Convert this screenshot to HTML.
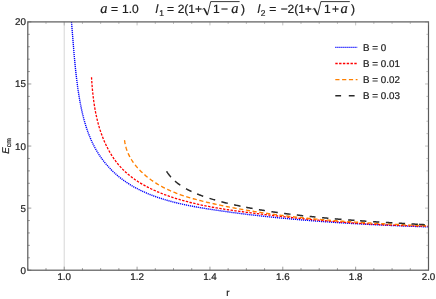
<!DOCTYPE html>
<html><head><meta charset="utf-8"><title>Ecm vs r</title>
<style>
html,body{margin:0;padding:0;background:#ffffff;}
body{width:436px;height:299px;overflow:hidden;}
svg{display:block;opacity:0.999;will-change:transform;}
text{font-family:"Liberation Sans",sans-serif;fill:#1e1e1e;stroke:#1e1e1e;stroke-width:0.22px;text-rendering:geometricPrecision;}
.t{font-size:9.8px;}
.h{font-size:12px;}
.si{font-family:"Liberation Serif",serif;font-style:italic;}
.it{font-style:italic;}
</style></head><body>
<svg width="436" height="299" viewBox="0 0 436 299">
<rect width="436" height="299" fill="#ffffff"/>
<line x1="64.23" y1="21.9" x2="64.23" y2="270.2" stroke="#cccccc" stroke-width="0.8"/>
<g clip-path="url(#cp)">
<clipPath id="cp"><rect x="27.8" y="21.9" width="400.7" height="248.29999999999998"/></clipPath>
<path d="M71.48,22.07 L71.58,23.27 L71.69,24.47 L71.79,25.67 L71.89,26.87 L71.99,28.07 L72.09,29.27 L72.19,30.47 L72.29,31.67 L72.39,32.87 L72.48,34.08 L72.58,35.28 L72.68,36.48 L72.77,37.68 L72.87,38.88 L72.97,40.08 L73.06,41.29 L73.16,42.49 L73.25,43.69 L73.35,44.90 L73.45,46.10 L73.55,47.30 L73.65,48.50 L73.75,49.71 L73.85,50.91 L73.95,52.11 L74.05,53.32 L74.15,54.52 L74.26,55.72 L74.36,56.93 L74.47,58.13 L74.58,59.34 L74.69,60.54 L74.80,61.74 L74.91,62.95 L75.03,64.15 L75.14,65.35 L75.26,66.56 L75.38,67.76 L75.50,68.97 L75.63,70.17 L75.76,71.37 L75.89,72.58 L76.02,73.78 L76.15,74.99 L76.29,76.19 L76.43,77.39 L76.58,78.60 L76.72,79.80 L76.87,81.01 L77.02,82.21 L77.18,83.41 L77.34,84.62 L77.50,85.82 L77.67,87.02 L77.84,88.23 L78.01,89.43 L78.19,90.64 L78.37,91.84 L78.55,93.04 L78.74,94.24 L78.93,95.45 L79.13,96.65 L79.33,97.85 L79.54,99.06 L79.75,100.26 L79.96,101.46 L80.18,102.66 L80.41,103.86 L80.64,105.06 L80.88,106.25 L81.12,107.45 L81.37,108.65 L81.63,109.84 L81.89,111.03 L82.16,112.22 L82.43,113.41 L82.71,114.60 L83.00,115.78 L83.30,116.96 L83.61,118.14 L83.92,119.32 L84.24,120.49 L84.57,121.66 L84.90,122.83 L85.25,124.00 L85.61,125.16 L85.97,126.32 L86.34,127.48 L86.72,128.63 L87.11,129.78 L87.52,130.92 L87.93,132.06 L88.35,133.20 L88.78,134.33 L89.22,135.46 L89.67,136.58 L90.14,137.70 L90.61,138.81 L91.10,139.92 L91.59,141.02 L92.10,142.12 L92.62,143.21 L93.15,144.29 L93.69,145.37 L94.25,146.44 L94.81,147.51 L95.39,148.57 L95.98,149.62 L96.59,150.66 L97.20,151.70 L97.83,152.72 L98.47,153.74 L99.12,154.76 L99.79,155.76 L100.46,156.76 L101.15,157.74 L101.85,158.72 L102.57,159.69 L103.29,160.64 L104.03,161.59 L104.78,162.53 L105.54,163.46 L106.32,164.39 L107.10,165.30 L107.89,166.20 L108.70,167.09 L109.52,167.97 L110.35,168.84 L111.19,169.70 L112.04,170.55 L112.90,171.39 L113.77,172.22 L114.65,173.04 L115.54,173.84 L116.44,174.64 L117.35,175.43 L118.27,176.20 L119.20,176.96 L120.14,177.71 L121.09,178.45 L122.04,179.18 L123.01,179.90 L123.99,180.60 L124.97,181.30 L125.96,181.98 L126.96,182.65 L127.97,183.31 L128.99,183.96 L130.01,184.59 L131.04,185.22 L132.08,185.83 L133.13,186.44 L134.18,187.03 L135.24,187.62 L136.31,188.19 L137.38,188.75 L138.46,189.31 L139.54,189.85 L140.63,190.38 L141.73,190.91 L142.83,191.42 L143.93,191.93 L145.04,192.42 L146.16,192.91 L147.28,193.39 L148.40,193.85 L149.53,194.31 L150.66,194.77 L151.79,195.21 L152.93,195.64 L154.07,196.07 L155.22,196.48 L156.37,196.89 L157.52,197.29 L158.67,197.69 L159.82,198.07 L160.98,198.45 L162.14,198.82 L163.30,199.19 L164.46,199.54 L165.62,199.89 L166.79,200.23 L167.96,200.57 L169.13,200.90 L170.30,201.22 L171.47,201.53 L172.64,201.84 L173.82,202.15 L174.99,202.45 L176.17,202.74 L177.35,203.02 L178.53,203.31 L179.71,203.58 L180.90,203.85 L182.08,204.12 L183.27,204.38 L184.45,204.63 L185.64,204.88 L186.83,205.13 L188.02,205.37 L189.21,205.61 L190.40,205.85 L191.59,206.08 L192.78,206.30 L193.98,206.52 L195.17,206.74 L196.37,206.96 L197.56,207.17 L198.76,207.38 L199.95,207.59 L201.15,207.79 L202.34,207.99 L203.54,208.19 L204.74,208.39 L205.93,208.58 L207.13,208.78 L208.33,208.97 L209.53,209.16 L210.73,209.34 L211.92,209.53 L213.12,209.71 L214.32,209.89 L215.52,210.08 L216.71,210.26 L217.91,210.43 L219.11,210.61 L220.31,210.78 L221.50,210.96 L222.70,211.13 L223.90,211.30 L225.10,211.47 L226.30,211.64 L227.49,211.81 L228.69,211.97 L229.89,212.13 L231.09,212.30 L232.29,212.46 L233.49,212.62 L234.68,212.78 L235.88,212.93 L237.08,213.09 L238.28,213.24 L239.48,213.40 L240.68,213.55 L241.88,213.70 L243.08,213.85 L244.28,214.00 L245.47,214.15 L246.67,214.29 L247.87,214.44 L249.07,214.58 L250.27,214.72 L251.47,214.87 L252.67,215.01 L253.88,215.15 L255.08,215.28 L256.28,215.42 L257.48,215.56 L258.68,215.69 L259.88,215.83 L261.08,215.96 L262.28,216.09 L263.49,216.22 L264.69,216.35 L265.89,216.48 L267.09,216.61 L268.29,216.74 L269.50,216.87 L270.70,216.99 L271.90,217.12 L273.11,217.24 L274.31,217.36 L275.51,217.48 L276.72,217.60 L277.92,217.72 L279.13,217.84 L280.33,217.96 L281.54,218.08 L282.74,218.19 L283.94,218.31 L285.15,218.42 L286.35,218.53 L287.56,218.65 L288.77,218.76 L289.97,218.87 L291.18,218.98 L292.38,219.09 L293.59,219.19 L294.79,219.30 L296.00,219.41 L297.21,219.51 L298.41,219.62 L299.62,219.72 L300.83,219.82 L302.03,219.93 L303.24,220.03 L304.45,220.13 L305.65,220.23 L306.86,220.32 L308.07,220.42 L309.28,220.52 L310.48,220.61 L311.69,220.71 L312.90,220.80 L314.11,220.90 L315.32,220.99 L316.52,221.08 L317.73,221.17 L318.94,221.27 L320.15,221.36 L321.36,221.44 L322.57,221.53 L323.77,221.62 L324.98,221.71 L326.19,221.79 L327.40,221.88 L328.61,221.96 L329.82,222.05 L331.03,222.13 L332.24,222.21 L333.45,222.29 L334.65,222.37 L335.86,222.46 L337.07,222.53 L338.28,222.61 L339.49,222.69 L340.70,222.77 L341.91,222.85 L343.12,222.92 L344.33,223.00 L345.54,223.07 L346.75,223.15 L347.96,223.22 L349.17,223.29 L350.38,223.37 L351.59,223.44 L352.80,223.51 L354.01,223.58 L355.22,223.65 L356.43,223.72 L357.64,223.79 L358.85,223.85 L360.06,223.92 L361.27,223.99 L362.48,224.05 L363.69,224.12 L364.90,224.18 L366.11,224.25 L367.32,224.31 L368.53,224.37 L369.74,224.44 L370.95,224.50 L372.16,224.56 L373.37,224.62 L374.58,224.68 L375.79,224.74 L377.00,224.80 L378.21,224.86 L379.42,224.92 L380.63,224.97 L381.84,225.03 L383.05,225.09 L384.26,225.14 L385.47,225.20 L386.68,225.25 L387.89,225.31 L389.10,225.36 L390.31,225.42 L391.52,225.47 L392.73,225.52 L393.94,225.58 L395.15,225.63 L396.36,225.68 L397.57,225.73 L398.78,225.78 L399.99,225.83 L401.20,225.88 L402.40,225.93 L403.61,225.98 L404.82,226.02 L406.03,226.07 L407.24,226.12 L408.45,226.17 L409.66,226.21 L410.87,226.26 L412.08,226.30 L413.29,226.35 L414.49,226.39 L415.70,226.44 L416.91,226.48 L418.12,226.53 L419.33,226.57 L420.54,226.61 L421.74,226.66 L422.95,226.70 L424.16,226.74 L425.37,226.78 L426.58,226.82 L427.78,226.87" fill="none" stroke="#0000ff" stroke-width="1.4" stroke-dasharray="1.2 0.8"/>
<path d="M91.52,77.19 L91.58,78.20 L91.64,79.21 L91.71,80.22 L91.78,81.24 L91.85,82.25 L91.92,83.27 L91.99,84.29 L92.07,85.31 L92.15,86.34 L92.24,87.36 L92.33,88.38 L92.42,89.41 L92.51,90.44 L92.61,91.46 L92.72,92.49 L92.82,93.52 L92.93,94.55 L93.05,95.58 L93.17,96.61 L93.29,97.64 L93.42,98.68 L93.55,99.71 L93.69,100.74 L93.83,101.77 L93.98,102.80 L94.13,103.84 L94.29,104.87 L94.45,105.90 L94.62,106.93 L94.79,107.96 L94.97,108.99 L95.15,110.02 L95.34,111.05 L95.54,112.08 L95.74,113.10 L95.95,114.13 L96.16,115.15 L96.39,116.18 L96.61,117.20 L96.85,118.22 L97.09,119.24 L97.33,120.26 L97.59,121.28 L97.85,122.29 L98.12,123.31 L98.39,124.32 L98.68,125.33 L98.97,126.34 L99.26,127.35 L99.57,128.35 L99.88,129.35 L100.20,130.35 L100.53,131.35 L100.87,132.35 L101.21,133.34 L101.57,134.33 L101.93,135.32 L102.30,136.30 L102.68,137.28 L103.07,138.26 L103.46,139.24 L103.87,140.21 L104.28,141.18 L104.70,142.14 L105.13,143.10 L105.57,144.05 L106.02,145.00 L106.48,145.95 L106.94,146.89 L107.42,147.82 L107.90,148.75 L108.40,149.68 L108.90,150.59 L109.41,151.50 L109.93,152.41 L110.46,153.31 L111.00,154.20 L111.54,155.08 L112.10,155.96 L112.66,156.83 L113.24,157.69 L113.82,158.55 L114.42,159.40 L115.02,160.24 L115.63,161.07 L116.26,161.89 L116.89,162.70 L117.53,163.51 L118.18,164.30 L118.84,165.09 L119.51,165.86 L120.19,166.63 L120.88,167.39 L121.58,168.13 L122.29,168.87 L123.00,169.60 L123.73,170.32 L124.47,171.02 L125.21,171.72 L125.96,172.41 L126.73,173.09 L127.50,173.77 L128.27,174.43 L129.06,175.08 L129.85,175.73 L130.66,176.36 L131.47,176.99 L132.28,177.61 L133.11,178.22 L133.94,178.82 L134.78,179.41 L135.62,180.00 L136.47,180.58 L137.33,181.14 L138.20,181.70 L139.07,182.26 L139.95,182.80 L140.83,183.34 L141.72,183.87 L142.61,184.39 L143.51,184.91 L144.42,185.41 L145.33,185.91 L146.24,186.41 L147.17,186.89 L148.09,187.37 L149.02,187.84 L149.95,188.31 L150.89,188.77 L151.84,189.22 L152.78,189.66 L153.73,190.10 L154.69,190.53 L155.65,190.96 L156.61,191.38 L157.57,191.79 L158.54,192.20 L159.51,192.60 L160.49,192.99 L161.46,193.38 L162.44,193.77 L163.42,194.15 L164.40,194.52 L165.39,194.88 L166.38,195.25 L167.37,195.60 L168.36,195.95 L169.35,196.30 L170.34,196.64 L171.34,196.98 L172.33,197.31 L173.33,197.63 L174.33,197.95 L175.32,198.27 L176.32,198.58 L177.32,198.89 L178.32,199.19 L179.32,199.49 L180.33,199.79 L181.33,200.08 L182.33,200.36 L183.34,200.64 L184.34,200.92 L185.35,201.19 L186.35,201.46 L187.36,201.73 L188.37,201.99 L189.38,202.25 L190.38,202.50 L191.39,202.75 L192.40,203.00 L193.41,203.24 L194.43,203.48 L195.44,203.71 L196.45,203.95 L197.46,204.18 L198.48,204.40 L199.49,204.62 L200.51,204.84 L201.52,205.06 L202.54,205.27 L203.55,205.48 L204.57,205.69 L205.59,205.89 L206.61,206.09 L207.62,206.29 L208.64,206.48 L209.66,206.67 L210.68,206.86 L211.70,207.05 L212.72,207.24 L213.74,207.42 L214.77,207.60 L215.79,207.78 L216.81,207.95 L217.83,208.12 L218.86,208.29 L219.88,208.46 L220.90,208.63 L221.93,208.79 L222.95,208.95 L223.98,209.12 L225.00,209.27 L226.03,209.43 L227.05,209.59 L228.08,209.74 L229.11,209.89 L230.13,210.04 L231.16,210.19 L232.19,210.34 L233.21,210.48 L234.24,210.63 L235.27,210.77 L236.30,210.91 L237.33,211.05 L238.36,211.19 L239.38,211.33 L240.41,211.47 L241.44,211.61 L242.47,211.74 L243.50,211.88 L244.53,212.01 L245.56,212.14 L246.59,212.28 L247.62,212.41 L248.65,212.54 L249.68,212.67 L250.71,212.80 L251.74,212.93 L252.77,213.06 L253.80,213.19 L254.84,213.32 L255.87,213.45 L256.90,213.58 L257.93,213.70 L258.96,213.83 L259.99,213.96 L261.02,214.08 L262.05,214.21 L263.09,214.33 L264.12,214.46 L265.15,214.58 L266.18,214.70 L267.21,214.83 L268.25,214.95 L269.28,215.07 L270.31,215.19 L271.34,215.31 L272.37,215.43 L273.41,215.55 L274.44,215.67 L275.47,215.79 L276.51,215.90 L277.54,216.02 L278.57,216.14 L279.60,216.25 L280.64,216.37 L281.67,216.48 L282.70,216.60 L283.74,216.71 L284.77,216.82 L285.81,216.94 L286.84,217.05 L287.87,217.16 L288.91,217.27 L289.94,217.38 L290.97,217.49 L292.01,217.60 L293.04,217.71 L294.08,217.81 L295.11,217.92 L296.15,218.03 L297.18,218.13 L298.21,218.24 L299.25,218.34 L300.28,218.45 L301.32,218.55 L302.35,218.66 L303.39,218.76 L304.42,218.86 L305.46,218.96 L306.49,219.06 L307.53,219.16 L308.56,219.26 L309.60,219.36 L310.64,219.46 L311.67,219.56 L312.71,219.65 L313.74,219.75 L314.78,219.85 L315.81,219.94 L316.85,220.04 L317.89,220.13 L318.92,220.22 L319.96,220.32 L320.99,220.41 L322.03,220.50 L323.07,220.59 L324.10,220.68 L325.14,220.77 L326.17,220.86 L327.21,220.95 L328.25,221.04 L329.28,221.12 L330.32,221.21 L331.36,221.30 L332.39,221.38 L333.43,221.47 L334.47,221.55 L335.50,221.63 L336.54,221.72 L337.58,221.80 L338.61,221.88 L339.65,221.96 L340.69,222.04 L341.73,222.12 L342.76,222.20 L343.80,222.28 L344.84,222.35 L345.87,222.43 L346.91,222.51 L347.95,222.58 L348.99,222.66 L350.02,222.73 L351.06,222.80 L352.10,222.88 L353.14,222.95 L354.17,223.02 L355.21,223.09 L356.25,223.16 L357.29,223.23 L358.33,223.30 L359.36,223.37 L360.40,223.43 L361.44,223.50 L362.48,223.57 L363.52,223.63 L364.55,223.70 L365.59,223.76 L366.63,223.82 L367.67,223.88 L368.71,223.95 L369.74,224.01 L370.78,224.07 L371.82,224.13 L372.86,224.19 L373.90,224.24 L374.94,224.30 L375.97,224.36 L377.01,224.41 L378.05,224.47 L379.09,224.52 L380.13,224.58 L381.17,224.63 L382.20,224.68 L383.24,224.74 L384.28,224.79 L385.32,224.84 L386.36,224.89 L387.40,224.94 L388.43,224.98 L389.47,225.03 L390.51,225.08 L391.55,225.12 L392.59,225.17 L393.63,225.21 L394.67,225.26 L395.71,225.30 L396.74,225.34 L397.78,225.38 L398.82,225.42 L399.86,225.46 L400.90,225.50 L401.94,225.54 L402.98,225.58 L404.02,225.62 L405.05,225.65 L406.09,225.69 L407.13,225.72 L408.17,225.76 L409.21,225.79 L410.25,225.82 L411.29,225.85 L412.33,225.88 L413.36,225.91 L414.40,225.94 L415.44,225.97 L416.48,226.00 L417.52,226.03 L418.56,226.05 L419.60,226.08 L420.64,226.10 L421.67,226.13 L422.71,226.15 L423.75,226.17 L424.79,226.19 L425.83,226.21 L426.87,226.23 L427.91,226.25" fill="none" stroke="#ff0000" stroke-width="1.3" stroke-dasharray="2.4 1.4"/>
<path d="M124.55,140.09 L124.65,140.95 L124.77,141.81 L124.90,142.66 L125.06,143.50 L125.22,144.34 L125.40,145.17 L125.60,145.99 L125.81,146.81 L126.04,147.62 L126.28,148.43 L126.54,149.22 L126.81,150.02 L127.10,150.80 L127.40,151.58 L127.71,152.36 L128.03,153.13 L128.37,153.89 L128.72,154.64 L129.09,155.39 L129.46,156.13 L129.85,156.87 L130.25,157.60 L130.66,158.32 L131.09,159.04 L131.52,159.75 L131.97,160.45 L132.42,161.15 L132.89,161.84 L133.36,162.53 L133.85,163.20 L134.35,163.88 L134.85,164.54 L135.37,165.20 L135.89,165.85 L136.42,166.50 L136.96,167.13 L137.51,167.77 L138.07,168.39 L138.63,169.01 L139.21,169.62 L139.79,170.23 L140.37,170.83 L140.97,171.42 L141.57,172.01 L142.17,172.58 L142.79,173.16 L143.40,173.72 L144.03,174.28 L144.66,174.83 L145.29,175.38 L145.93,175.92 L146.58,176.45 L147.23,176.97 L147.88,177.49 L148.54,178.00 L149.20,178.51 L149.86,179.00 L150.53,179.50 L151.20,179.98 L151.88,180.46 L152.56,180.93 L153.24,181.40 L153.93,181.85 L154.62,182.31 L155.31,182.75 L156.01,183.19 L156.71,183.63 L157.41,184.06 L158.12,184.48 L158.83,184.90 L159.54,185.31 L160.26,185.71 L160.98,186.11 L161.70,186.51 L162.42,186.90 L163.15,187.28 L163.88,187.66 L164.62,188.03 L165.35,188.40 L166.09,188.76 L166.83,189.12 L167.58,189.47 L168.33,189.82 L169.08,190.16 L169.83,190.50 L170.58,190.83 L171.34,191.16 L172.10,191.49 L172.86,191.81 L173.63,192.12 L174.39,192.43 L175.16,192.74 L175.93,193.04 L176.70,193.34 L177.48,193.63 L178.26,193.92 L179.03,194.21 L179.81,194.49 L180.60,194.77 L181.38,195.05 L182.17,195.32 L182.95,195.58 L183.74,195.85 L184.53,196.11 L185.33,196.37 L186.12,196.62 L186.92,196.87 L187.71,197.12 L188.51,197.36 L189.31,197.60 L190.11,197.84 L190.91,198.08 L191.72,198.31 L192.52,198.54 L193.33,198.77 L194.13,198.99 L194.94,199.22 L195.75,199.44 L196.56,199.65 L197.37,199.87 L198.18,200.08 L198.99,200.29 L199.81,200.50 L200.62,200.71 L201.43,200.91 L202.25,201.11 L203.06,201.31 L203.88,201.51 L204.70,201.71 L205.51,201.91 L206.33,202.10 L207.15,202.29 L207.97,202.48 L208.78,202.67 L209.60,202.86 L210.42,203.05 L211.24,203.23 L212.06,203.42 L212.87,203.60 L213.69,203.78 L214.51,203.97 L215.33,204.15 L216.15,204.33 L216.97,204.50 L217.79,204.68 L218.60,204.86 L219.42,205.03 L220.24,205.20 L221.06,205.38 L221.88,205.55 L222.70,205.72 L223.52,205.89 L224.34,206.06 L225.16,206.22 L225.98,206.39 L226.80,206.55 L227.62,206.72 L228.44,206.88 L229.26,207.04 L230.08,207.20 L230.90,207.36 L231.72,207.52 L232.54,207.68 L233.36,207.83 L234.18,207.99 L235.00,208.14 L235.82,208.30 L236.64,208.45 L237.46,208.60 L238.28,208.75 L239.11,208.90 L239.93,209.05 L240.75,209.20 L241.57,209.34 L242.39,209.49 L243.21,209.63 L244.03,209.78 L244.86,209.92 L245.68,210.06 L246.50,210.20 L247.32,210.34 L248.14,210.48 L248.96,210.62 L249.79,210.76 L250.61,210.89 L251.43,211.03 L252.25,211.16 L253.08,211.29 L253.90,211.43 L254.72,211.56 L255.54,211.69 L256.37,211.82 L257.19,211.94 L258.01,212.07 L258.83,212.20 L259.66,212.33 L260.48,212.45 L261.30,212.57 L262.13,212.70 L262.95,212.82 L263.77,212.94 L264.60,213.06 L265.42,213.18 L266.24,213.30 L267.07,213.42 L267.89,213.54 L268.72,213.65 L269.54,213.77 L270.36,213.88 L271.19,214.00 L272.01,214.11 L272.84,214.22 L273.66,214.33 L274.48,214.44 L275.31,214.55 L276.13,214.66 L276.96,214.77 L277.78,214.88 L278.61,214.99 L279.43,215.09 L280.26,215.20 L281.08,215.30 L281.91,215.40 L282.73,215.51 L283.56,215.61 L284.38,215.71 L285.21,215.81 L286.03,215.91 L286.86,216.01 L287.68,216.11 L288.51,216.21 L289.33,216.30 L290.16,216.40 L290.99,216.50 L291.81,216.59 L292.64,216.68 L293.46,216.78 L294.29,216.87 L295.12,216.96 L295.94,217.05 L296.77,217.14 L297.59,217.23 L298.42,217.32 L299.25,217.41 L300.07,217.50 L300.90,217.59 L301.73,217.67 L302.55,217.76 L303.38,217.84 L304.21,217.93 L305.03,218.01 L305.86,218.10 L306.69,218.18 L307.52,218.26 L308.34,218.34 L309.17,218.42 L310.00,218.50 L310.83,218.58 L311.65,218.66 L312.48,218.74 L313.31,218.82 L314.14,218.90 L314.96,218.97 L315.79,219.05 L316.62,219.13 L317.45,219.20 L318.27,219.28 L319.10,219.35 L319.93,219.42 L320.76,219.50 L321.59,219.57 L322.42,219.64 L323.24,219.71 L324.07,219.78 L324.90,219.85 L325.73,219.92 L326.56,219.99 L327.39,220.06 L328.22,220.13 L329.04,220.19 L329.87,220.26 L330.70,220.33 L331.53,220.39 L332.36,220.46 L333.19,220.52 L334.02,220.59 L334.85,220.65 L335.68,220.72 L336.51,220.78 L337.34,220.84 L338.17,220.90 L339.00,220.97 L339.82,221.03 L340.65,221.09 L341.48,221.15 L342.31,221.21 L343.14,221.27 L343.97,221.33 L344.80,221.39 L345.63,221.44 L346.46,221.50 L347.29,221.56 L348.12,221.62 L348.95,221.67 L349.78,221.73 L350.62,221.79 L351.45,221.84 L352.28,221.90 L353.11,221.95 L353.94,222.01 L354.77,222.06 L355.60,222.11 L356.43,222.17 L357.26,222.22 L358.09,222.27 L358.92,222.32 L359.75,222.38 L360.58,222.43 L361.42,222.48 L362.25,222.53 L363.08,222.58 L363.91,222.63 L364.74,222.68 L365.57,222.73 L366.40,222.78 L367.24,222.83 L368.07,222.88 L368.90,222.93 L369.73,222.98 L370.56,223.02 L371.39,223.07 L372.23,223.12 L373.06,223.17 L373.89,223.21 L374.72,223.26 L375.55,223.31 L376.39,223.35 L377.22,223.40 L378.05,223.44 L378.88,223.49 L379.71,223.53 L380.55,223.58 L381.38,223.62 L382.21,223.67 L383.04,223.71 L383.88,223.76 L384.71,223.80 L385.54,223.84 L386.37,223.89 L387.21,223.93 L388.04,223.97 L388.87,224.02 L389.71,224.06 L390.54,224.10 L391.37,224.14 L392.20,224.19 L393.04,224.23 L393.87,224.27 L394.70,224.31 L395.54,224.35 L396.37,224.40 L397.20,224.44 L398.04,224.48 L398.87,224.52 L399.70,224.56 L400.54,224.60 L401.37,224.64 L402.21,224.68 L403.04,224.72 L403.87,224.76 L404.71,224.80 L405.54,224.85 L406.37,224.89 L407.21,224.93 L408.04,224.97 L408.88,225.01 L409.71,225.05 L410.54,225.09 L411.38,225.13 L412.21,225.17 L413.05,225.20 L413.88,225.24 L414.72,225.28 L415.55,225.32 L416.38,225.36 L417.22,225.40 L418.05,225.44 L418.89,225.48 L419.72,225.52 L420.56,225.56 L421.39,225.60 L422.23,225.64 L423.06,225.68 L423.90,225.72 L424.73,225.76 L425.57,225.80 L426.40,225.84 L427.24,225.88 L428.07,225.92" fill="none" stroke="#ff8000" stroke-width="1.35" stroke-dasharray="4.2 2.6"/>
<path d="M167.45,171.50 L166.93,171.87 L167.06,172.06 L167.19,172.25 L167.32,172.45 L167.45,172.64 L167.59,172.83 L167.72,173.02 L167.86,173.21 L167.99,173.40 L168.13,173.58 L168.27,173.77 L168.40,173.95 L168.54,174.14 L168.68,174.32 L168.82,174.50 L168.97,174.69 L169.11,174.87 L169.25,175.05 L169.39,175.23 L169.54,175.40 L169.68,175.58 L169.83,175.76 L169.98,175.93 L170.12,176.11 L170.27,176.28 L170.42,176.45 L170.57,176.62 L170.72,176.80 L170.87,176.97 L171.02,177.13 M175.00,181.07 L175.76,181.72 L176.51,182.35 L177.27,182.96 L178.03,183.55 L178.79,184.12 L179.54,184.67 L180.30,185.20 M186.00,188.72 L186.79,189.15 L187.57,189.57 L188.36,189.98 L189.14,190.38 L189.93,190.77 L190.71,191.15 L191.50,191.52 M197.10,193.95 L197.97,194.30 L198.84,194.65 L199.71,194.98 L200.59,195.31 L201.46,195.64 L202.33,195.96 L203.20,196.27 M209.50,198.38 L210.31,198.63 L211.13,198.88 L211.94,199.13 L212.76,199.37 L213.57,199.61 L214.39,199.84 L215.20,200.08 M221.40,201.75 L222.31,201.99 L223.23,202.22 L224.14,202.45 L225.06,202.67 L225.97,202.90 L226.89,203.12 L227.80,203.34 M234.10,204.79 L235.01,204.99 L235.93,205.19 L236.84,205.39 L237.76,205.59 L238.67,205.78 L239.59,205.97 L240.50,206.17 M246.20,207.32 L247.11,207.49 L248.03,207.67 L248.94,207.84 L249.86,208.02 L250.77,208.19 L251.69,208.36 L252.60,208.53 M258.90,209.64 L259.76,209.78 L260.61,209.93 L261.47,210.07 L262.33,210.21 L263.19,210.35 L264.04,210.49 L264.90,210.63 M271.40,211.64 L272.31,211.77 L273.23,211.91 L274.14,212.04 L275.06,212.17 L275.97,212.31 L276.89,212.44 L277.80,212.57 M284.10,213.42 L285.01,213.54 L285.93,213.66 L286.84,213.78 L287.76,213.90 L288.67,214.01 L289.59,214.13 L290.50,214.24 M296.80,215.00 L297.71,215.11 L298.63,215.21 L299.54,215.32 L300.46,215.42 L301.37,215.53 L302.29,215.63 L303.20,215.73 M309.70,216.43 L310.53,216.52 L311.36,216.61 L312.19,216.69 L313.01,216.78 L313.84,216.86 L314.67,216.95 L315.50,217.03 M322.10,217.67 L323.00,217.76 L323.90,217.84 L324.80,217.92 L325.70,218.01 L326.60,218.09 L327.50,218.17 L328.40,218.25 M334.80,218.81 L335.76,218.89 L336.71,218.97 L337.67,219.05 L338.63,219.13 L339.59,219.21 L340.54,219.29 L341.50,219.37 M348.10,219.89 L349.01,219.96 L349.93,220.03 L350.84,220.10 L351.76,220.17 L352.67,220.23 L353.59,220.30 L354.50,220.37 M360.10,220.77 L361.00,220.83 L361.90,220.90 L362.80,220.96 L363.70,221.02 L364.60,221.08 L365.50,221.15 L366.40,221.21 M373.10,221.65 L373.99,221.71 L374.87,221.76 L375.76,221.82 L376.64,221.88 L377.53,221.93 L378.41,221.99 L379.30,222.05 M385.90,222.45 L386.83,222.51 L387.76,222.57 L388.69,222.62 L389.61,222.68 L390.54,222.73 L391.47,222.79 L392.40,222.84 M398.80,223.22 L399.70,223.27 L400.60,223.32 L401.50,223.37 L402.40,223.43 L403.30,223.48 L404.20,223.53 L405.10,223.58 M411.50,223.94 L412.41,223.99 L413.33,224.05 L414.24,224.10 L415.16,224.15 L416.07,224.20 L416.99,224.25 L417.90,224.30 M419.10,224.37 L419.91,224.42 L420.73,224.46 L421.54,224.51 L422.36,224.55 L423.17,224.60 L423.99,224.65 L424.80,224.69 " fill="none" stroke="#2a2a2a" stroke-width="1.5"/>
</g>
<!-- frame -->
<rect x="27.8" y="21.9" width="400.7" height="248.29999999999998" fill="none" stroke="#5a5a5a" stroke-width="1.2"/>
<line x1="27.80" y1="270.2" x2="27.80" y2="268.09999999999997" stroke="#5a5a5a" stroke-width="0.6"/><line x1="27.80" y1="21.9" x2="27.80" y2="24.0" stroke="#777" stroke-width="0.45"/><line x1="46.01" y1="270.2" x2="46.01" y2="268.09999999999997" stroke="#5a5a5a" stroke-width="0.6"/><line x1="46.01" y1="21.9" x2="46.01" y2="24.0" stroke="#777" stroke-width="0.45"/><line x1="64.23" y1="270.2" x2="64.23" y2="266.7" stroke="#5a5a5a" stroke-width="0.6"/><line x1="64.23" y1="21.9" x2="64.23" y2="25.4" stroke="#777" stroke-width="0.45"/><line x1="82.44" y1="270.2" x2="82.44" y2="268.09999999999997" stroke="#5a5a5a" stroke-width="0.6"/><line x1="82.44" y1="21.9" x2="82.44" y2="24.0" stroke="#777" stroke-width="0.45"/><line x1="100.65" y1="270.2" x2="100.65" y2="268.09999999999997" stroke="#5a5a5a" stroke-width="0.6"/><line x1="100.65" y1="21.9" x2="100.65" y2="24.0" stroke="#777" stroke-width="0.45"/><line x1="118.87" y1="270.2" x2="118.87" y2="268.09999999999997" stroke="#5a5a5a" stroke-width="0.6"/><line x1="118.87" y1="21.9" x2="118.87" y2="24.0" stroke="#777" stroke-width="0.45"/><line x1="137.08" y1="270.2" x2="137.08" y2="266.7" stroke="#5a5a5a" stroke-width="0.6"/><line x1="137.08" y1="21.9" x2="137.08" y2="25.4" stroke="#777" stroke-width="0.45"/><line x1="155.30" y1="270.2" x2="155.30" y2="268.09999999999997" stroke="#5a5a5a" stroke-width="0.6"/><line x1="155.30" y1="21.9" x2="155.30" y2="24.0" stroke="#777" stroke-width="0.45"/><line x1="173.51" y1="270.2" x2="173.51" y2="268.09999999999997" stroke="#5a5a5a" stroke-width="0.6"/><line x1="173.51" y1="21.9" x2="173.51" y2="24.0" stroke="#777" stroke-width="0.45"/><line x1="191.72" y1="270.2" x2="191.72" y2="268.09999999999997" stroke="#5a5a5a" stroke-width="0.6"/><line x1="191.72" y1="21.9" x2="191.72" y2="24.0" stroke="#777" stroke-width="0.45"/><line x1="209.94" y1="270.2" x2="209.94" y2="266.7" stroke="#5a5a5a" stroke-width="0.6"/><line x1="209.94" y1="21.9" x2="209.94" y2="25.4" stroke="#777" stroke-width="0.45"/><line x1="228.15" y1="270.2" x2="228.15" y2="268.09999999999997" stroke="#5a5a5a" stroke-width="0.6"/><line x1="228.15" y1="21.9" x2="228.15" y2="24.0" stroke="#777" stroke-width="0.45"/><line x1="246.36" y1="270.2" x2="246.36" y2="268.09999999999997" stroke="#5a5a5a" stroke-width="0.6"/><line x1="246.36" y1="21.9" x2="246.36" y2="24.0" stroke="#777" stroke-width="0.45"/><line x1="264.58" y1="270.2" x2="264.58" y2="268.09999999999997" stroke="#5a5a5a" stroke-width="0.6"/><line x1="264.58" y1="21.9" x2="264.58" y2="24.0" stroke="#777" stroke-width="0.45"/><line x1="282.79" y1="270.2" x2="282.79" y2="266.7" stroke="#5a5a5a" stroke-width="0.6"/><line x1="282.79" y1="21.9" x2="282.79" y2="25.4" stroke="#777" stroke-width="0.45"/><line x1="301.00" y1="270.2" x2="301.00" y2="268.09999999999997" stroke="#5a5a5a" stroke-width="0.6"/><line x1="301.00" y1="21.9" x2="301.00" y2="24.0" stroke="#777" stroke-width="0.45"/><line x1="319.22" y1="270.2" x2="319.22" y2="268.09999999999997" stroke="#5a5a5a" stroke-width="0.6"/><line x1="319.22" y1="21.9" x2="319.22" y2="24.0" stroke="#777" stroke-width="0.45"/><line x1="337.43" y1="270.2" x2="337.43" y2="268.09999999999997" stroke="#5a5a5a" stroke-width="0.6"/><line x1="337.43" y1="21.9" x2="337.43" y2="24.0" stroke="#777" stroke-width="0.45"/><line x1="355.65" y1="270.2" x2="355.65" y2="266.7" stroke="#5a5a5a" stroke-width="0.6"/><line x1="355.65" y1="21.9" x2="355.65" y2="25.4" stroke="#777" stroke-width="0.45"/><line x1="373.86" y1="270.2" x2="373.86" y2="268.09999999999997" stroke="#5a5a5a" stroke-width="0.6"/><line x1="373.86" y1="21.9" x2="373.86" y2="24.0" stroke="#777" stroke-width="0.45"/><line x1="392.07" y1="270.2" x2="392.07" y2="268.09999999999997" stroke="#5a5a5a" stroke-width="0.6"/><line x1="392.07" y1="21.9" x2="392.07" y2="24.0" stroke="#777" stroke-width="0.45"/><line x1="410.29" y1="270.2" x2="410.29" y2="268.09999999999997" stroke="#5a5a5a" stroke-width="0.6"/><line x1="410.29" y1="21.9" x2="410.29" y2="24.0" stroke="#777" stroke-width="0.45"/><line x1="428.50" y1="270.2" x2="428.50" y2="266.7" stroke="#5a5a5a" stroke-width="0.6"/><line x1="428.50" y1="21.9" x2="428.50" y2="25.4" stroke="#777" stroke-width="0.45"/><line x1="27.8" y1="270.20" x2="31.3" y2="270.20" stroke="#5a5a5a" stroke-width="0.6"/><line x1="428.5" y1="270.20" x2="425.0" y2="270.20" stroke="#777" stroke-width="0.45"/><line x1="27.8" y1="257.78" x2="29.900000000000002" y2="257.78" stroke="#5a5a5a" stroke-width="0.6"/><line x1="428.5" y1="257.78" x2="426.4" y2="257.78" stroke="#777" stroke-width="0.45"/><line x1="27.8" y1="245.37" x2="29.900000000000002" y2="245.37" stroke="#5a5a5a" stroke-width="0.6"/><line x1="428.5" y1="245.37" x2="426.4" y2="245.37" stroke="#777" stroke-width="0.45"/><line x1="27.8" y1="232.95" x2="29.900000000000002" y2="232.95" stroke="#5a5a5a" stroke-width="0.6"/><line x1="428.5" y1="232.95" x2="426.4" y2="232.95" stroke="#777" stroke-width="0.45"/><line x1="27.8" y1="220.54" x2="29.900000000000002" y2="220.54" stroke="#5a5a5a" stroke-width="0.6"/><line x1="428.5" y1="220.54" x2="426.4" y2="220.54" stroke="#777" stroke-width="0.45"/><line x1="27.8" y1="208.12" x2="31.3" y2="208.12" stroke="#5a5a5a" stroke-width="0.6"/><line x1="428.5" y1="208.12" x2="425.0" y2="208.12" stroke="#777" stroke-width="0.45"/><line x1="27.8" y1="195.71" x2="29.900000000000002" y2="195.71" stroke="#5a5a5a" stroke-width="0.6"/><line x1="428.5" y1="195.71" x2="426.4" y2="195.71" stroke="#777" stroke-width="0.45"/><line x1="27.8" y1="183.30" x2="29.900000000000002" y2="183.30" stroke="#5a5a5a" stroke-width="0.6"/><line x1="428.5" y1="183.30" x2="426.4" y2="183.30" stroke="#777" stroke-width="0.45"/><line x1="27.8" y1="170.88" x2="29.900000000000002" y2="170.88" stroke="#5a5a5a" stroke-width="0.6"/><line x1="428.5" y1="170.88" x2="426.4" y2="170.88" stroke="#777" stroke-width="0.45"/><line x1="27.8" y1="158.46" x2="29.900000000000002" y2="158.46" stroke="#5a5a5a" stroke-width="0.6"/><line x1="428.5" y1="158.46" x2="426.4" y2="158.46" stroke="#777" stroke-width="0.45"/><line x1="27.8" y1="146.05" x2="31.3" y2="146.05" stroke="#5a5a5a" stroke-width="0.6"/><line x1="428.5" y1="146.05" x2="425.0" y2="146.05" stroke="#777" stroke-width="0.45"/><line x1="27.8" y1="133.63" x2="29.900000000000002" y2="133.63" stroke="#5a5a5a" stroke-width="0.6"/><line x1="428.5" y1="133.63" x2="426.4" y2="133.63" stroke="#777" stroke-width="0.45"/><line x1="27.8" y1="121.22" x2="29.900000000000002" y2="121.22" stroke="#5a5a5a" stroke-width="0.6"/><line x1="428.5" y1="121.22" x2="426.4" y2="121.22" stroke="#777" stroke-width="0.45"/><line x1="27.8" y1="108.81" x2="29.900000000000002" y2="108.81" stroke="#5a5a5a" stroke-width="0.6"/><line x1="428.5" y1="108.81" x2="426.4" y2="108.81" stroke="#777" stroke-width="0.45"/><line x1="27.8" y1="96.39" x2="29.900000000000002" y2="96.39" stroke="#5a5a5a" stroke-width="0.6"/><line x1="428.5" y1="96.39" x2="426.4" y2="96.39" stroke="#777" stroke-width="0.45"/><line x1="27.8" y1="83.97" x2="31.3" y2="83.97" stroke="#5a5a5a" stroke-width="0.6"/><line x1="428.5" y1="83.97" x2="425.0" y2="83.97" stroke="#777" stroke-width="0.45"/><line x1="27.8" y1="71.56" x2="29.900000000000002" y2="71.56" stroke="#5a5a5a" stroke-width="0.6"/><line x1="428.5" y1="71.56" x2="426.4" y2="71.56" stroke="#777" stroke-width="0.45"/><line x1="27.8" y1="59.15" x2="29.900000000000002" y2="59.15" stroke="#5a5a5a" stroke-width="0.6"/><line x1="428.5" y1="59.15" x2="426.4" y2="59.15" stroke="#777" stroke-width="0.45"/><line x1="27.8" y1="46.73" x2="29.900000000000002" y2="46.73" stroke="#5a5a5a" stroke-width="0.6"/><line x1="428.5" y1="46.73" x2="426.4" y2="46.73" stroke="#777" stroke-width="0.45"/><line x1="27.8" y1="34.32" x2="29.900000000000002" y2="34.32" stroke="#5a5a5a" stroke-width="0.6"/><line x1="428.5" y1="34.32" x2="426.4" y2="34.32" stroke="#777" stroke-width="0.45"/><line x1="27.8" y1="21.90" x2="31.3" y2="21.90" stroke="#5a5a5a" stroke-width="0.6"/><line x1="428.5" y1="21.90" x2="425.0" y2="21.90" stroke="#777" stroke-width="0.45"/>
<text x="64.23" y="280.4" text-anchor="middle" class="t">1.0</text><text x="137.08" y="280.4" text-anchor="middle" class="t">1.2</text><text x="209.94" y="280.4" text-anchor="middle" class="t">1.4</text><text x="282.79" y="280.4" text-anchor="middle" class="t">1.6</text><text x="355.65" y="280.4" text-anchor="middle" class="t">1.8</text><text x="428.50" y="280.4" text-anchor="middle" class="t">2.0</text><text x="26" y="273.65" text-anchor="end" class="t">0</text><text x="26" y="211.57" text-anchor="end" class="t">5</text><text x="26" y="149.50" text-anchor="end" class="t">10</text><text x="26" y="87.42" text-anchor="end" class="t">15</text><text x="26" y="25.35" text-anchor="end" class="t">20</text>
<line x1="335.3" y1="47.40" x2="357.5" y2="47.40" stroke="#0000ff" stroke-width="1.4" stroke-dasharray="1.2 0.8"/><text x="363.1" y="50.55" class="t">B = 0</text><line x1="335.3" y1="63.50" x2="357.5" y2="63.50" stroke="#ff0000" stroke-width="1.3" stroke-dasharray="2.4 1.4"/><text x="363.1" y="66.65" class="t">B = 0.01</text><line x1="335.3" y1="79.60" x2="357.5" y2="79.60" stroke="#ff8000" stroke-width="1.35" stroke-dasharray="4.2 2.6"/><text x="363.1" y="82.75" class="t">B = 0.02</text><line x1="335.3" y1="95.70" x2="357.5" y2="95.70" stroke="#2a2a2a" stroke-width="1.5" stroke-dasharray="5.8 7.7"/><text x="363.1" y="98.85" class="t">B = 0.03</text>
<!-- title -->
<text class="si" x="100.37" y="13.4" style="font-size:14.5px">a</text><text class="h" x="110.91" y="13.4" style="font-size:12.0px">=</text><text class="h" x="122.09" y="13.4" style="font-size:12.0px">1.0</text><text class="h it" x="155.51" y="13.4" style="font-size:12.0px">l</text><text class="h" x="159.16" y="15.7" style="font-size:8.4px">1</text><text class="h" x="167.11" y="13.4" style="font-size:12.0px">=</text><text class="h" x="177.70" y="13.4" style="font-size:12.0px">2(1+</text><text class="h" x="212.89" y="13.4" style="font-size:12.0px">1</text><text class="h" x="221.11" y="13.4" style="font-size:12.0px">−</text><text class="si" x="231.37" y="13.4" style="font-size:14.5px">a</text><text class="h" x="241.03" y="13.4" style="font-size:12.0px">)</text><text class="h it" x="257.61" y="13.4" style="font-size:12.0px">l</text><text class="h" x="260.68" y="15.7" style="font-size:8.4px">2</text><text class="h" x="269.31" y="13.4" style="font-size:12.0px">=</text><text class="h" x="280.71" y="13.4" style="font-size:12.0px">−</text><text class="h" x="287.50" y="13.4" style="font-size:12.0px">2(1+</text><text class="h" x="324.09" y="13.4" style="font-size:12.0px">1</text><text class="h" x="331.91" y="13.4" style="font-size:12.0px">+</text><text class="si" x="340.57" y="13.4" style="font-size:14.5px">a</text><text class="h" x="351.03" y="13.4" style="font-size:12.0px">)</text><path d="M202.4,9.3 L204.1,8.3" fill="none" stroke="#222" stroke-width="0.8"/><path d="M204.1,8.3 L207.4,14.9" fill="none" stroke="#222" stroke-width="1.5"/><path d="M207.4,15.2 L210.70000000000002,1.6 L239.6,1.6" fill="none" stroke="#222" stroke-width="0.9"/><path d="M312.6,9.3 L314.3,8.3" fill="none" stroke="#222" stroke-width="0.8"/><path d="M314.3,8.3 L317.6,14.9" fill="none" stroke="#222" stroke-width="1.5"/><path d="M317.6,15.2 L320.90000000000003,1.6 L349.8,1.6" fill="none" stroke="#222" stroke-width="0.9"/>
<!-- axis labels -->
<text class="t" x="228" y="295.6" text-anchor="middle">r</text>
<g transform="translate(8.9,153.8) rotate(-90)"><text class="t" x="0" y="0"><tspan class="it" style="font-size:9.8px">E</tspan><tspan dy="1.9" style="font-size:6.8px">cm</tspan></text></g>
</svg>
</body></html>
